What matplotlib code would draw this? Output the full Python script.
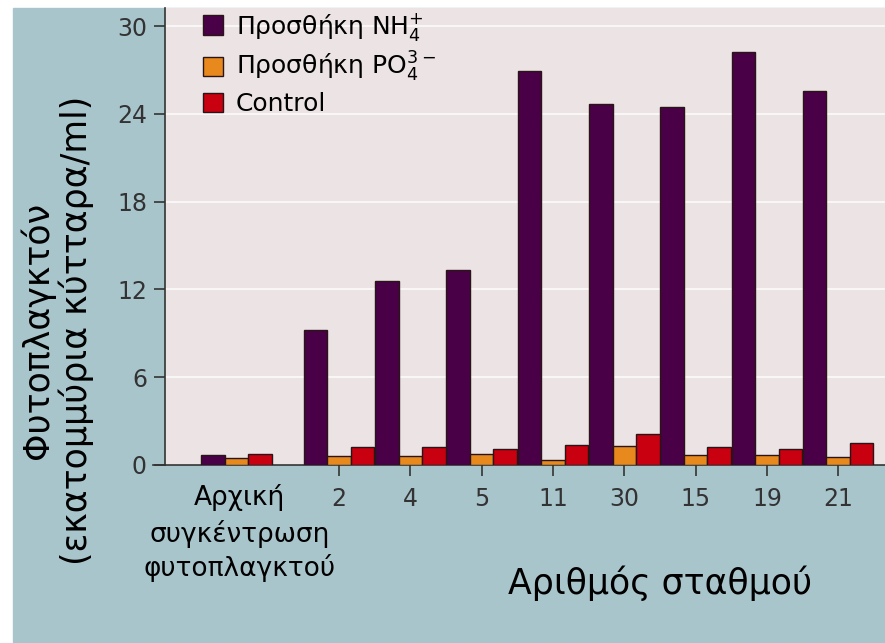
import numpy as np
import matplotlib.pyplot as plt
from matplotlib.patches import Patch, Rectangle

# station labels (first group is the starting concentration, no tick)
stations = ['2', '4', '5', '11', '30', '15', '19', '21']
start_label = ['Αρχική', 'συγκέντρωση', 'φυτοπλαγκτού']

# phytoplankton, million cells/ml; first value = initial concentration
nh4 = [0.68, 9.25, 12.6, 13.3, 26.95, 24.65, 24.5, 28.2, 25.6]
po4 = [0.46, 0.63, 0.63, 0.77, 0.35, 1.3, 0.65, 0.7, 0.57]
control = [0.75, 1.2, 1.2, 1.1, 1.4, 2.15, 1.2, 1.1, 1.5]

legend_labels = ['Προσθήκη NH$_4^{+}$', 'Προσθήκη PO$_4^{3-}$', 'Control']
colors = ['#4a0046', '#e8891e', '#c9000f']

bg_blue = '#a9c5cc'
bg_plot = '#ece4e4'

fig = plt.figure(figsize=(8.85, 6.43), dpi=100)
fig.patch.set_facecolor('white')
fig.patches.append(Rectangle((13 / 885, 0), 1, (643 - 8) / 643,
                             transform=fig.transFigure, color=bg_blue, zorder=-10))

ax = fig.add_axes([165 / 885, (643 - 465) / 643, 1 - 165 / 885, (465 - 8) / 643])
ax.set_facecolor(bg_plot)

gap = 1.44
x = np.array([0] + [gap + i for i in range(len(stations))])
w = 0.33

for vals, off, c in zip([nh4, po4, control], [-w, 0, w], colors):
    ax.bar(x + off, vals, width=w, color=c, edgecolor='#2a1418', linewidth=1, zorder=3)

ax.set_xlim(-1.003, 9.097)
ax.set_ylim(0, 31.24)
ax.set_yticks([0, 6, 12, 18, 24, 30])
ax.set_xticks(x[1:])
ax.set_xticklabels(stations)
ax.yaxis.grid(True, color='white', linewidth=1.5, alpha=0.7, zorder=1)
ax.set_axisbelow(True)

ax.tick_params(axis='both', colors='#333333', labelsize=17, length=8, width=1.2,
               direction='out', labelcolor='#333333')
ax.tick_params(axis='x', pad=8)
ax.tick_params(axis='y', pad=5)
for s in ['top', 'right']:
    ax.spines[s].set_visible(False)
for s in ['left', 'bottom']:
    ax.spines[s].set_color('#333333')
    ax.spines[s].set_linewidth(1.2)
# baseline runs a little past the y axis
ax.plot([-1.17, -1.003], [0, 0], color='#333333', linewidth=1.2, clip_on=False)

# label under the first group, one text per line
for line, yy in zip(start_label, [-0.072, -0.150, -0.226]):
    ax.text(0.045, yy, line, transform=ax.get_xaxis_transform(),
            ha='center', va='center', fontsize=19)

fig.text(660 / 885, 1 - 583 / 643, 'Αριθμός σταθμού', ha='center', va='center', fontsize=25)
fig.text(57 / 885, 1 - 330 / 643, 'Φυτοπλαγκτόν\n(εκατομμύρια κύτταρα/ml)',
         ha='center', va='center', rotation=90, fontsize=25, linespacing=1.12)

handles = [Patch(facecolor=c, edgecolor='#2a1418', linewidth=1) for c in colors]
ax.legend(handles, legend_labels, loc='upper left', bbox_to_anchor=((198 - 165) / 720, 1.005),
          frameon=False, fontsize=18, handlelength=0.8, handleheight=0.8,
          handletextpad=0.5, labelspacing=0.3, borderaxespad=0, borderpad=0.2)

fig.savefig('out.png', dpi=100)
